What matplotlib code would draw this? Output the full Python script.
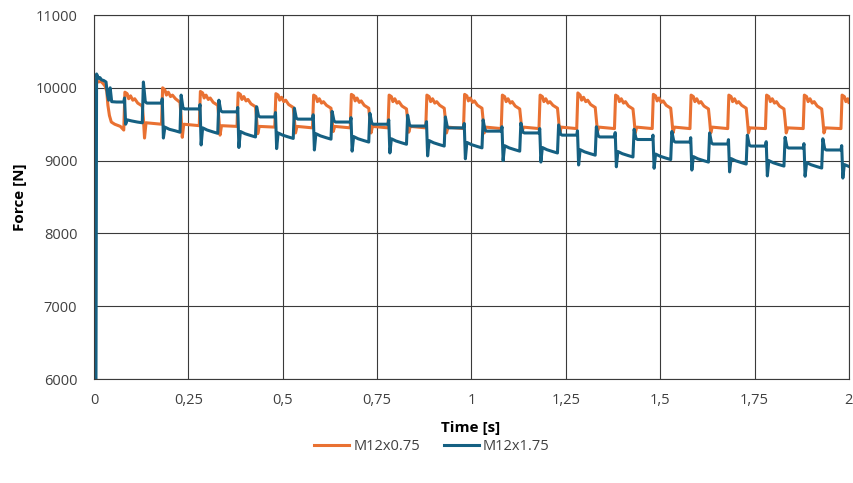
import matplotlib.pyplot as plt

plt.rcParams['font.family'] = ['Open Sans', 'DejaVu Sans']

# axis ticks
x_ticks = [0, 0.25, 0.5, 0.75, 1, 1.25, 1.5, 1.75, 2]
x_tick_labels = ["0", "0,25", "0,5", "0,75", "1", "1,25", "1,5", "1,75", "2"]
y_ticks = [6000, 7000, 8000, 9000, 10000, 11000]

series_names = ["M12x0.75", "M12x1.75"]
series_colors = ["#E97132", "#156082"]

# M12x0.75, time [s] (start-up, then one line per load cycle)
orange_time = [
    0.006, 0.012, 0.018, 0.024, 0.030, 0.034, 0.037, 0.041, 0.046, 0.055, 0.070,
    0.079, 0.082, 0.088, 0.092, 0.097, 0.103, 0.108, 0.116, 0.128, 0.131, 0.134, 0.138,
    0.179, 0.182, 0.188, 0.192, 0.197, 0.203, 0.208, 0.216, 0.228, 0.231, 0.234, 0.238,
    0.279, 0.282, 0.288, 0.292, 0.297, 0.303, 0.308, 0.316, 0.328, 0.331, 0.334, 0.338,
    0.379, 0.382, 0.388, 0.392, 0.397, 0.403, 0.408, 0.416, 0.428, 0.431, 0.434, 0.438,
    0.479, 0.482, 0.488, 0.492, 0.497, 0.503, 0.508, 0.516, 0.528, 0.531, 0.534, 0.538,
    0.579, 0.582, 0.588, 0.592, 0.597, 0.603, 0.608, 0.616, 0.628, 0.631, 0.634, 0.638,
    0.679, 0.682, 0.688, 0.692, 0.697, 0.703, 0.708, 0.716, 0.728, 0.731, 0.734, 0.738,
    0.779, 0.782, 0.788, 0.792, 0.797, 0.803, 0.808, 0.816, 0.828, 0.831, 0.834, 0.838,
    0.879, 0.882, 0.888, 0.892, 0.897, 0.903, 0.908, 0.916, 0.928, 0.931, 0.934, 0.938,
    0.979, 0.982, 0.988, 0.992, 0.997, 1.003, 1.008, 1.016, 1.028, 1.031, 1.034, 1.038,
    1.079, 1.082, 1.088, 1.092, 1.097, 1.103, 1.108, 1.116, 1.128, 1.131, 1.134, 1.138,
    1.179, 1.182, 1.188, 1.192, 1.197, 1.203, 1.208, 1.216, 1.228, 1.231, 1.234, 1.238,
    1.279, 1.282, 1.288, 1.292, 1.297, 1.303, 1.308, 1.316, 1.328, 1.331, 1.334, 1.338,
    1.379, 1.382, 1.388, 1.392, 1.397, 1.403, 1.408, 1.416, 1.428, 1.431, 1.434, 1.438,
    1.479, 1.482, 1.488, 1.492, 1.497, 1.503, 1.508, 1.516, 1.528, 1.531, 1.534, 1.538,
    1.579, 1.582, 1.588, 1.592, 1.597, 1.603, 1.608, 1.616, 1.628, 1.631, 1.634, 1.638,
    1.679, 1.682, 1.688, 1.692, 1.697, 1.703, 1.708, 1.716, 1.728, 1.731, 1.734, 1.738,
    1.779, 1.782, 1.788, 1.792, 1.797, 1.803, 1.808, 1.816, 1.828, 1.831, 1.834, 1.838,
    1.879, 1.882, 1.888, 1.892, 1.897, 1.903, 1.908, 1.916, 1.928, 1.931, 1.934, 1.938,
    1.979, 1.982, 1.988, 1.992, 1.997, 2.000,
]
# M12x0.75, force [N]
orange_force = [
    10100, 10080, 10090, 10060, 10020, 9950, 9760, 9620, 9530, 9500, 9470,
    9420, 9940, 9920, 9850, 9890, 9830, 9850, 9790, 9750, 9580, 9310, 9520,
    9500, 10000, 9970, 9900, 9940, 9880, 9900, 9850, 9800, 9600, 9320, 9500,
    9480, 9950, 9930, 9860, 9900, 9840, 9860, 9800, 9760, 9580, 9350, 9480,
    9470, 9930, 9910, 9840, 9880, 9820, 9840, 9780, 9740, 9570, 9370, 9470,
    9460, 9920, 9900, 9830, 9870, 9810, 9830, 9770, 9730, 9570, 9380, 9470,
    9450, 9900, 9880, 9810, 9850, 9790, 9810, 9760, 9720, 9560, 9400, 9470,
    9450, 9910, 9890, 9820, 9860, 9800, 9820, 9760, 9720, 9560, 9380, 9470,
    9450, 9900, 9880, 9810, 9850, 9790, 9810, 9750, 9710, 9560, 9390, 9470,
    9450, 9900, 9880, 9810, 9850, 9790, 9810, 9760, 9720, 9570, 9380, 9460,
    9440, 9910, 9890, 9820, 9860, 9800, 9820, 9760, 9720, 9560, 9380, 9460,
    9440, 9900, 9880, 9810, 9850, 9790, 9810, 9750, 9710, 9560, 9390, 9460,
    9440, 9900, 9880, 9810, 9850, 9790, 9810, 9760, 9720, 9560, 9380, 9460,
    9440, 9930, 9900, 9830, 9870, 9810, 9830, 9770, 9730, 9570, 9400, 9460,
    9440, 9900, 9880, 9810, 9850, 9790, 9810, 9750, 9710, 9560, 9380, 9460,
    9440, 9910, 9890, 9820, 9860, 9800, 9820, 9760, 9720, 9560, 9380, 9460,
    9440, 9900, 9880, 9810, 9850, 9790, 9810, 9750, 9710, 9560, 9380, 9460,
    9440, 9900, 9880, 9810, 9850, 9790, 9810, 9760, 9720, 9560, 9380, 9450,
    9440, 9900, 9880, 9810, 9850, 9790, 9810, 9750, 9710, 9560, 9380, 9450,
    9440, 9900, 9880, 9810, 9850, 9790, 9810, 9750, 9710, 9560, 9380, 9450,
    9440, 9900, 9880, 9810, 9850, 9800,
]

# M12x1.75, time [s]
blue_time = [
    0.005, 0.007, 0.012, 0.016, 0.020, 0.026, 0.032, 0.036, 0.039, 0.043, 0.047, 0.060,
    0.079, 0.081, 0.084, 0.088, 0.100, 0.115, 0.128, 0.131, 0.136, 0.140,
    0.179, 0.181, 0.184, 0.188, 0.200, 0.215, 0.228, 0.231, 0.236, 0.240,
    0.279, 0.281, 0.284, 0.288, 0.300, 0.315, 0.328, 0.331, 0.336, 0.340,
    0.379, 0.381, 0.384, 0.388, 0.400, 0.415, 0.428, 0.431, 0.436, 0.440,
    0.479, 0.481, 0.484, 0.488, 0.500, 0.515, 0.528, 0.531, 0.536, 0.540,
    0.579, 0.581, 0.584, 0.588, 0.600, 0.615, 0.628, 0.631, 0.636, 0.640,
    0.679, 0.681, 0.684, 0.688, 0.700, 0.715, 0.728, 0.731, 0.736, 0.740,
    0.779, 0.781, 0.784, 0.788, 0.800, 0.815, 0.828, 0.831, 0.836, 0.840,
    0.879, 0.881, 0.884, 0.888, 0.900, 0.915, 0.928, 0.931, 0.936, 0.940,
    0.979, 0.981, 0.984, 0.988, 1.000, 1.015, 1.028, 1.031, 1.036, 1.040,
    1.079, 1.081, 1.084, 1.088, 1.100, 1.115, 1.128, 1.131, 1.136, 1.140,
    1.179, 1.181, 1.184, 1.188, 1.200, 1.215, 1.228, 1.231, 1.236, 1.240,
    1.279, 1.281, 1.284, 1.288, 1.300, 1.315, 1.328, 1.331, 1.336, 1.340,
    1.379, 1.381, 1.384, 1.388, 1.400, 1.415, 1.428, 1.431, 1.436, 1.440,
    1.479, 1.481, 1.484, 1.488, 1.500, 1.515, 1.528, 1.531, 1.536, 1.540,
    1.579, 1.581, 1.584, 1.588, 1.600, 1.615, 1.628, 1.631, 1.636, 1.640,
    1.679, 1.681, 1.684, 1.688, 1.700, 1.715, 1.728, 1.731, 1.736, 1.740,
    1.779, 1.781, 1.784, 1.788, 1.800, 1.815, 1.828, 1.831, 1.836, 1.840,
    1.879, 1.881, 1.884, 1.888, 1.900, 1.915, 1.928, 1.931, 1.936, 1.940,
    1.979, 1.981, 1.984, 1.988, 2.000,
]
# M12x1.75, force [N]
blue_force = [
    5000, 10190, 10130, 10140, 10110, 10100, 10080, 9900, 9830, 10000, 9810, 9805,
    9805, 9860, 9500, 9560, 9545, 9530, 9520, 10080, 9810, 9790,
    9790, 9850, 9310, 9460, 9430, 9410, 9390, 9900, 9720, 9710,
    9710, 9770, 9215, 9450, 9420, 9395, 9375, 9830, 9685, 9670,
    9670, 9730, 9180, 9400, 9370, 9345, 9325, 9740, 9615, 9600,
    9600, 9660, 9165, 9380, 9350, 9325, 9305, 9720, 9585, 9570,
    9570, 9630, 9146, 9370, 9340, 9315, 9295, 9675, 9545, 9530,
    9530, 9590, 9130, 9330, 9300, 9275, 9255, 9650, 9515, 9500,
    9500, 9560, 9105, 9300, 9270, 9245, 9225, 9625, 9490, 9475,
    9475, 9535, 9065, 9275, 9245, 9220, 9200, 9600, 9465, 9450,
    9450, 9510, 9025, 9250, 9220, 9195, 9175, 9560, 9420, 9405,
    9405, 9465, 9000, 9205, 9175, 9150, 9130, 9515, 9395, 9380,
    9380, 9440, 8980, 9180, 9150, 9125, 9105, 9490, 9365, 9350,
    9350, 9410, 8940, 9150, 9120, 9095, 9075, 9465, 9340, 9325,
    9325, 9385, 8915, 9125, 9095, 9070, 9050, 9430, 9305, 9290,
    9290, 9350, 8895, 9090, 9060, 9035, 9015, 9400, 9270, 9255,
    9255, 9315, 8870, 9055, 9025, 9000, 8980, 9380, 9243, 9228,
    9228, 9288, 8845, 9028, 8998, 8973, 8953, 9350, 9215, 9200,
    9200, 9260, 8790, 9000, 8970, 8945, 8925, 9320, 9188, 9173,
    9173, 9233, 8785, 8973, 8943, 8918, 8898, 9300, 9161, 9146,
    9146, 9206, 8760, 8946, 8920,
]

fig = plt.figure(figsize=(8.54, 4.83), dpi=100)
ax = fig.add_axes([0.110, 0.2153, 0.884, 0.7536])

ax.plot(orange_time, orange_force, color=series_colors[0], lw=2.2,
        solid_joinstyle='round', label=series_names[0])
ax.plot(blue_time, blue_force, color=series_colors[1], lw=2.2,
        solid_joinstyle='round', label=series_names[1])

ax.set_xlim(0, 2)
ax.set_ylim(6000, 11000)
ax.set_xticks(x_ticks)
ax.set_xticklabels(x_tick_labels)
ax.set_yticks(y_ticks)
ax.tick_params(axis='both', length=0, labelsize=10.5, labelcolor='#404040')
ax.tick_params(axis='x', pad=10)
ax.tick_params(axis='y', pad=12)

ax.grid(True, color='#3a3a3a', lw=0.8)
ax.set_axisbelow(True)
for s in ax.spines.values():
    s.set_color('#3a3a3a')
    s.set_linewidth(0.8)

fig.text(20 / 854, 1 - 197 / 483, "Force [N]", rotation=90, ha='center',
         va='center', fontsize=11, fontweight='bold')
fig.text(471 / 854, 1 - 428 / 483, "Time [s]", ha='center', va='center',
         fontsize=11, fontweight='bold')

fig.legend(loc='center', bbox_to_anchor=(432 / 854, 1 - 447 / 483), ncol=2,
           frameon=False, fontsize=10.5, handlelength=2.4, handletextpad=0.3,
           columnspacing=1.6, labelcolor='#404040')

fig.savefig("out.png", dpi=100)
